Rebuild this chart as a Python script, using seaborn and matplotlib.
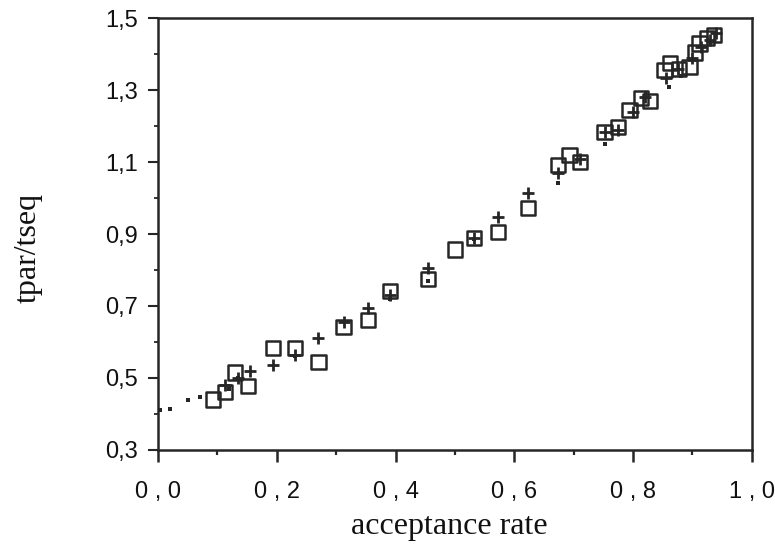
import numpy as np
import pandas as pd
import matplotlib
matplotlib.use("Agg")
import matplotlib.pyplot as plt
import seaborn as sns
from matplotlib.ticker import MultipleLocator, FixedLocator

# data
square_x = [0.093, 0.113, 0.13, 0.152, 0.194, 0.231, 0.27, 0.3125, 0.353, 0.39, 0.454, 0.5,
            0.532, 0.573, 0.623, 0.674, 0.693, 0.711, 0.752, 0.775, 0.794, 0.814, 0.828,
            0.853, 0.862, 0.877, 0.895, 0.904, 0.912, 0.924, 0.937]
square_y = [0.44, 0.46, 0.515, 0.477, 0.583, 0.583, 0.544, 0.642, 0.661, 0.742, 0.775, 0.857,
            0.889, 0.906, 0.972, 1.092, 1.119, 1.1, 1.183, 1.197, 1.244, 1.278, 1.27,
            1.355, 1.375, 1.358, 1.364, 1.405, 1.43, 1.444, 1.453]

plus_x = [0.113, 0.135, 0.154, 0.194, 0.231, 0.27, 0.3125, 0.353, 0.39, 0.454, 0.532, 0.573,
          0.623, 0.674, 0.711, 0.752, 0.775, 0.80, 0.82, 0.855, 0.875, 0.90, 0.915, 0.93, 0.94]
plus_y = [0.48, 0.50, 0.52, 0.536, 0.565, 0.611, 0.656, 0.694, 0.73, 0.806, 0.89, 0.947,
          1.014, 1.07, 1.11, 1.185, 1.19, 1.24, 1.28, 1.335, 1.36, 1.39, 1.42, 1.44, 1.46]

dot_x = [0.003, 0.02, 0.05, 0.07, 0.12, 0.135, 0.23, 0.39, 0.454, 0.532, 0.674, 0.752, 0.86, 0.88]
dot_y = [0.41, 0.413, 0.44, 0.447, 0.47, 0.5, 0.56, 0.72, 0.77, 0.885, 1.042, 1.15, 1.31, 1.34]

x_ticks = [0.0, 0.2, 0.4, 0.6, 0.8, 1.0]
x_labels = ["0 , 0", "0 , 2", "0 , 4", "0 , 6", "0 , 8", "1 , 0"]
y_ticks = [0.3, 0.5, 0.7, 0.9, 1.1, 1.3, 1.5]
y_labels = ["0,3", "0,5", "0,7", "0,9", "1,1", "1,3", "1,5"]

sns.set_theme(style="ticks")
plt.rcParams["font.family"] = ["Liberation Sans", "DejaVu Sans"]

ink = "#262626"
fig = plt.figure(figsize=(7.75, 5.52), dpi=100)
ax = fig.add_axes([0.204, 0.185, 0.766, 0.782])

sns.scatterplot(x=square_x, y=square_y, marker="s", s=105, facecolor="none",
                edgecolor=ink, linewidth=1.8, ax=ax, zorder=3)
sns.scatterplot(x=plus_x, y=plus_y, marker="+", s=85, color=ink, linewidth=2.0, ax=ax, zorder=4)
sns.scatterplot(x=dot_x, y=dot_y, marker="s", s=9, color=ink, linewidth=0, ax=ax, zorder=5)

ax.set_xlim(0, 1.0)
ax.set_ylim(0.3, 1.5)
ax.xaxis.set_major_locator(FixedLocator(x_ticks))
ax.xaxis.set_minor_locator(MultipleLocator(0.1))
ax.yaxis.set_major_locator(FixedLocator(y_ticks))
ax.yaxis.set_minor_locator(MultipleLocator(0.1))

for side in ["left", "right", "top", "bottom"]:
    ax.spines[side].set_linewidth(1.8)
    ax.spines[side].set_color(ink)

ax.tick_params(axis="x", which="major", direction="out", length=8.5, width=1.8, pad=14,
               color=ink, labelcolor="#111111", labelsize=17)
ax.tick_params(axis="x", which="minor", direction="out", length=3.6, width=1.6, color=ink)
ax.tick_params(axis="y", which="major", direction="out", length=7.5, width=1.5, pad=7,
               color=ink, labelcolor="#111111", labelsize=17)
ax.tick_params(axis="y", which="minor", direction="out", length=3, width=1.3, color=ink)

ax.set_xticklabels(x_labels, fontsize=17)
ax.set_yticklabels(y_labels, fontsize=17)

ax.set_xlabel("acceptance rate", fontsize=23, family="Liberation Serif", color="#111111")
ax.set_ylabel("tpar/tseq", fontsize=23, family="Liberation Serif", color="#111111")
ax.xaxis.set_label_coords(0.49, -0.145)
ax.yaxis.set_label_coords(-0.194, 0.468)

fig.savefig("out.png", dpi=100)
